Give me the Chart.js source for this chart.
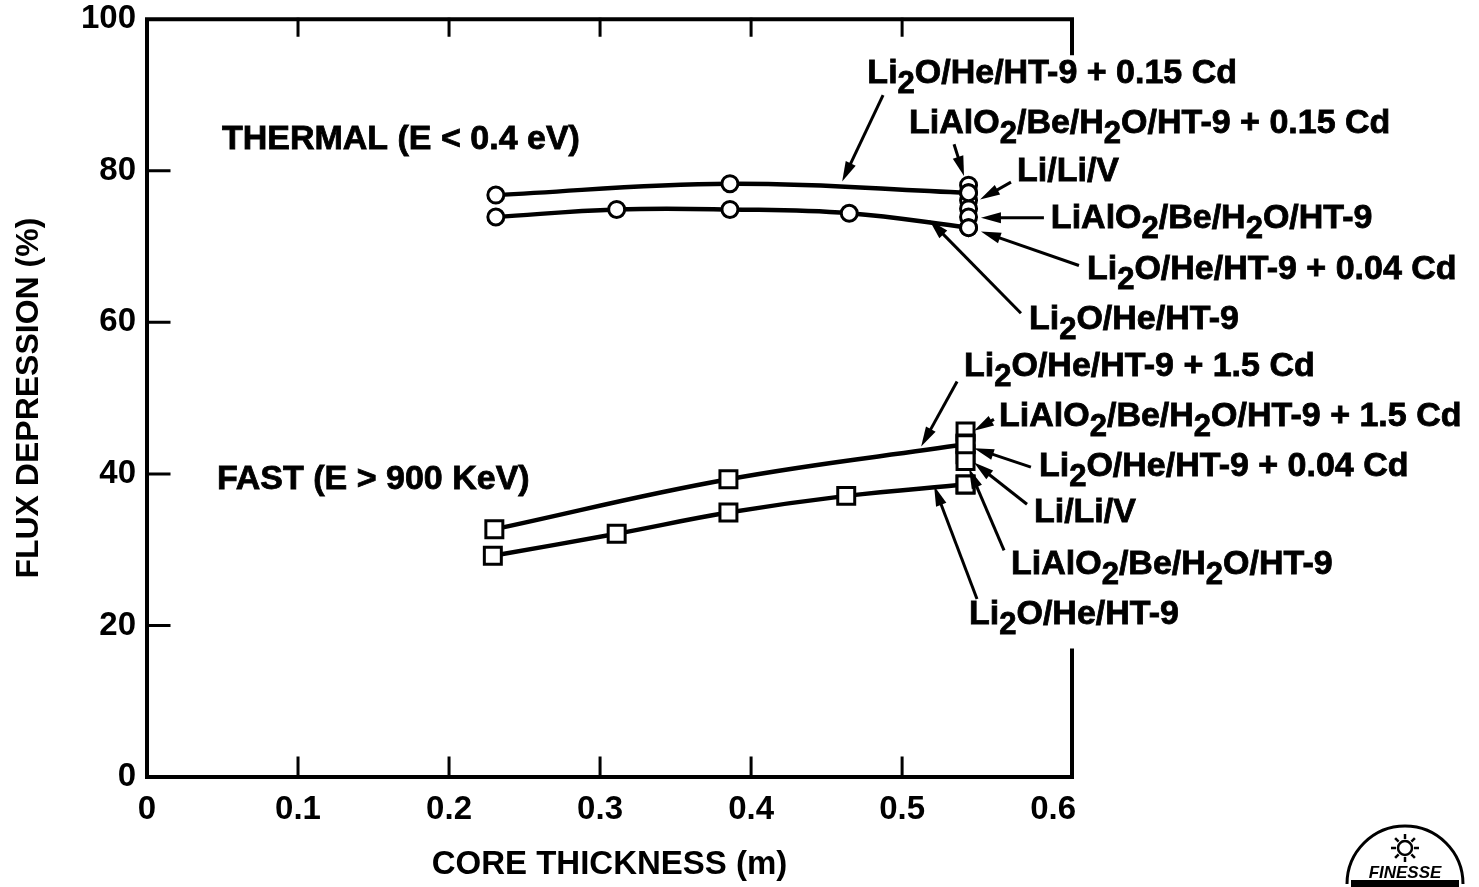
<!DOCTYPE html>
<html>
<head>
<meta charset="utf-8">
<script src="https://cdn.jsdelivr.net/npm/chart.js@4.4.1/dist/chart.umd.min.js"></script>
<style>
  html, body { margin: 0; padding: 0; background: #fff; }
  #wrap { width: 1479px; height: 887px; position: relative; }
</style>
</head>
<body>
<div id="wrap"><canvas id="chart"></canvas></div>
<script>
// --- Data ---
const xTicks = [0, 0.1, 0.2, 0.3, 0.4, 0.5, 0.6];
const yTicks = [0, 20, 40, 60, 80, 100];

// thermal flux (E < 0.4 eV)
const thermalCdX = [0.231, 0.386, 0.544];
const thermalCd = [76.8, 78.3, 77.1];               // Li2O/He/HT-9 + 0.15 Cd
const thermalBaseX = [0.231, 0.311, 0.386, 0.465, 0.544];
const thermalBase = [73.9, 74.9, 74.9, 74.4, 72.5]; // Li2O/He/HT-9
const thermalClusterX = 0.544;
const thermalCluster = [78.1, 77.1, 76.1, 75.0, 73.9, 72.5];

// fast flux (E > 900 KeV)
const fastCdX = [0.23, 0.385, 0.542];
const fastCd = [32.7, 39.3, 43.9];                  // Li2O/He/HT-9 + 1.5 Cd
const fastBaseX = [0.229, 0.311, 0.385, 0.463, 0.542];
const fastBase = [29.2, 32.1, 34.9, 37.1, 38.6];    // Li2O/He/HT-9
const fastClusterX = 0.542;
const fastCluster = [45.6, 44.0, 42.6, 41.7, 38.6];

// annotation texts ("_2" = subscript 2)
const thermalLabels = ['Li_2O/He/HT-9 + 0.15 Cd', 'LiAlO_2/Be/H_2O/HT-9 + 0.15 Cd', 'Li/Li/V',
  'LiAlO_2/Be/H_2O/HT-9', 'Li_2O/He/HT-9 + 0.04 Cd', 'Li_2O/He/HT-9'];
const fastLabels = ['Li_2O/He/HT-9 + 1.5 Cd', 'LiAlO_2/Be/H_2O/HT-9 + 1.5 Cd', 'Li_2O/He/HT-9 + 0.04 Cd',
  'Li/Li/V', 'LiAlO_2/Be/H_2O/HT-9', 'Li_2O/He/HT-9'];
const groupLabels = ['THERMAL (E < 0.4 eV)', 'FAST (E > 900 KeV)'];

// --- Layout of annotations, in axis units: [textX, textY, fromX, fromY, tipX, tipY] ---
const thermalLayout = [
  [0.477, 92.8, 0.4874, 90.0, 0.4603, 78.6],
  [0.5046, 86.2, 0.5344, 83.5, 0.541, 79.3],
  [0.5761, 79.9, 0.5721, 78.5, 0.5516, 76.2],
  [0.5985, 73.7, 0.5939, 73.8, 0.5522, 73.8],
  [0.6224, 67.0, 0.6171, 67.5, 0.5522, 72.0],
  [0.584, 60.4, 0.5787, 61.2, 0.518, 73.5]
];
const fastLayout = [
  [0.541, 54.1, 0.5364, 52.2, 0.5126, 43.6],
  [0.5642, 47.6, 0.5608, 47.2, 0.5476, 45.7],
  [0.5906, 41.0, 0.5853, 40.9, 0.5476, 43.4],
  [0.5873, 34.9, 0.5827, 36.0, 0.5476, 41.5],
  [0.5721, 28.0, 0.5675, 29.9, 0.5443, 40.7],
  [0.5443, 21.4, 0.5496, 23.5, 0.5212, 38.4]
];
const groupLayout = [[0.0496, 84.1], [0.0463, 39.2]];

const FONT = '"Liberation Sans", Arial, sans-serif';
const INK = '#000';

function pts(xs, ys) { return ys.map((y, i) => ({ x: Array.isArray(xs) ? xs[i] : xs, y })); }

// bold text with "_2" subscripts; a thin outline makes it as heavy as the print
function drawRich(ctx, str, x, y, size) {
  const parts = str.split(/(_\d)/).filter(p => p.length);
  let cx = x;
  ctx.textBaseline = 'middle';
  ctx.textAlign = 'left';
  ctx.lineWidth = 0.8;
  parts.forEach(p => {
    const sub = p[0] === '_';
    const t = sub ? p[1] : p;
    const ty = sub ? y + size * 0.32 : y;
    ctx.font = `bold ${sub ? Math.round(size * 0.92) : size}px ${FONT}`;
    ctx.fillText(t, cx, ty);
    ctx.strokeText(t, cx, ty);
    cx += ctx.measureText(t).width;
  });
}

function drawArrow(ctx, x1, y1, x2, y2) {
  const a = Math.atan2(y2 - y1, x2 - x1);
  const len = 20, half = 5.5;
  ctx.lineWidth = 3;
  ctx.beginPath();
  ctx.moveTo(x1, y1);
  ctx.lineTo(x2 - Math.cos(a) * len * 0.6, y2 - Math.sin(a) * len * 0.6);
  ctx.stroke();
  ctx.beginPath();
  ctx.moveTo(x2, y2);
  ctx.lineTo(x2 - Math.cos(a) * len + Math.sin(a) * half, y2 - Math.sin(a) * len - Math.cos(a) * half);
  ctx.lineTo(x2 - Math.cos(a) * len - Math.sin(a) * half, y2 - Math.sin(a) * len + Math.cos(a) * half);
  ctx.closePath();
  ctx.fill();
}

// frame with inward ticks, broken right edge, annotations and logo
const decorations = {
  id: 'decorations',
  beforeDatasetsDraw(chart) {
    const { ctx, chartArea: a, scales: { x, y } } = chart;
    ctx.save();
    ctx.strokeStyle = INK;
    ctx.lineWidth = 4;
    ctx.lineCap = 'square';
    ctx.beginPath();
    ctx.moveTo(a.right, y.getPixelForValue(95.5));
    ctx.lineTo(a.right, a.top);
    ctx.lineTo(a.left, a.top);
    ctx.lineTo(a.left, a.bottom);
    ctx.lineTo(a.right, a.bottom);
    ctx.lineTo(a.right, y.getPixelForValue(16.7));
    ctx.stroke();
    ctx.lineWidth = 3;
    ctx.beginPath();
    xTicks.slice(1, -1).forEach(v => {
      const px = x.getPixelForValue(v);
      ctx.moveTo(px, a.bottom); ctx.lineTo(px, a.bottom - 19);
      ctx.moveTo(px, a.top); ctx.lineTo(px, a.top + 16);
    });
    yTicks.slice(1, -1).forEach(v => {
      const py = y.getPixelForValue(v);
      ctx.moveTo(a.left, py); ctx.lineTo(a.left + 22, py);
    });
    ctx.stroke();
    ctx.restore();
  },
  afterDatasetsDraw(chart) {
    const { ctx, scales: { x, y } } = chart;
    ctx.save();
    ctx.fillStyle = INK;
    ctx.strokeStyle = INK;
    const put = (labels, layout) => labels.forEach((t, i) => {
      const [tx, ty, fx, fy, ex, ey] = layout[i];
      drawRich(ctx, t, x.getPixelForValue(tx), y.getPixelForValue(ty), 34);
      drawArrow(ctx, x.getPixelForValue(fx), y.getPixelForValue(fy), x.getPixelForValue(ex), y.getPixelForValue(ey));
    });
    put(thermalLabels, thermalLayout);
    put(fastLabels, fastLayout);
    groupLabels.forEach((t, i) => {
      drawRich(ctx, t, x.getPixelForValue(groupLayout[i][0]), y.getPixelForValue(groupLayout[i][1]), 34);
    });

    // FINESSE logo, bottom right
    const cx = 1405, cy = 884, r = 58;
    ctx.lineWidth = 3;
    ctx.beginPath();
    ctx.ellipse(cx, cy, r, r, 0, Math.PI, 2 * Math.PI);
    ctx.stroke();
    ctx.beginPath();
    ctx.arc(cx, cy - 36, 7, 0, 2 * Math.PI);
    ctx.lineWidth = 2.5;
    ctx.stroke();
    for (let k = 0; k < 8; k++) {
      const ang = k * Math.PI / 4;
      ctx.beginPath();
      ctx.moveTo(cx + Math.cos(ang) * 9, cy - 36 + Math.sin(ang) * 9);
      ctx.lineTo(cx + Math.cos(ang) * 14, cy - 36 + Math.sin(ang) * 14);
      ctx.stroke();
    }
    ctx.font = `italic bold 17px ${FONT}`;
    ctx.textAlign = 'center';
    ctx.textBaseline = 'alphabetic';
    ctx.fillText('FINESSE', cx, cy - 6);
    ctx.fillRect(cx - 54, cy - 4, 108, 7);
    ctx.restore();
  }
};

const lineStyle = {
  borderColor: INK,
  borderWidth: 4.5,
  tension: 0.4,
  pointBackgroundColor: '#fff',
  pointBorderColor: INK,
  pointBorderWidth: 3,
  showLine: true,
  fill: false
};

new Chart(document.getElementById('chart'), {
  type: 'line',
  data: {
    datasets: [
      { ...lineStyle, data: pts(thermalCdX, thermalCd), pointStyle: 'circle', pointRadius: 8 },
      { ...lineStyle, data: pts(thermalBaseX, thermalBase), pointStyle: 'circle', pointRadius: 8 },
      { ...lineStyle, data: pts(thermalClusterX, thermalCluster), showLine: false, pointStyle: 'circle', pointRadius: 8 },
      { ...lineStyle, data: pts(fastCdX, fastCd), pointStyle: 'rect', pointRadius: 12 },
      { ...lineStyle, data: pts(fastBaseX, fastBase), pointStyle: 'rect', pointRadius: 12 },
      { ...lineStyle, data: pts(fastClusterX, fastCluster), showLine: false, pointStyle: 'rect', pointRadius: 12 }
    ]
  },
  options: {
    responsive: true,
    maintainAspectRatio: false,
    animation: false,
    events: [],
    layout: { padding: { top: 17, right: 407, left: 0, bottom: 0 } },
    plugins: { legend: { display: false }, tooltip: { enabled: false } },
    scales: {
      x: {
        type: 'linear', min: 0, max: 0.6125,
        grid: { display: false, drawTicks: false },
        border: { display: false },
        afterBuildTicks: s => { s.ticks = xTicks.map(v => ({ value: v })); },
        afterFit: s => { s.height = 110; },
        ticks: { color: INK, padding: 13, font: { family: FONT, size: 33, weight: 'bold' },
          callback: v => (v === 0 ? '0' : v.toFixed(1)) },
        title: { display: true, text: 'CORE THICKNESS (m)', color: INK, padding: { bottom: 2 },
          font: { family: FONT, size: 33, weight: 'bold' } }
      },
      y: {
        type: 'linear', min: 0, max: 100,
        grid: { display: false, drawTicks: false },
        border: { display: false },
        afterBuildTicks: s => { s.ticks = yTicks.map(v => ({ value: v })); },
        afterFit: s => { s.width = 147; },
        ticks: { color: INK, padding: 11, font: { family: FONT, size: 33, weight: 'bold', lineHeight: 0.5 } },
        title: { display: true, text: 'FLUX DEPRESSION (%)', color: INK, padding: { top: 10 },
          font: { family: FONT, size: 32, weight: 'bold' } }
      }
    }
  },
  plugins: [decorations]
});
</script>
</body>
</html>
